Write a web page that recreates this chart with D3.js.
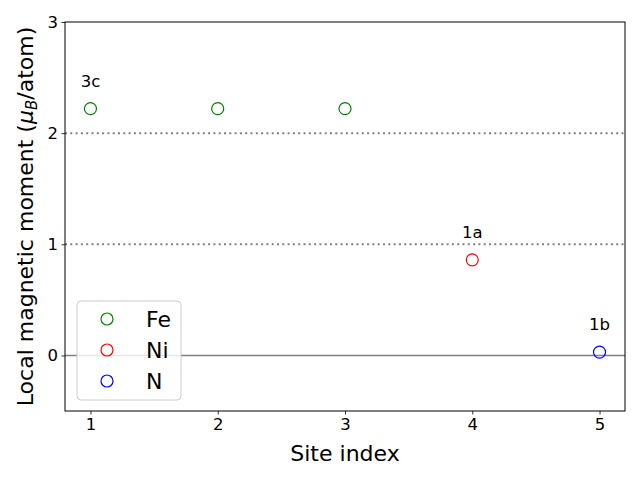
<!DOCTYPE html>
<html><head><meta charset="utf-8">
<script src="https://cdn.jsdelivr.net/npm/d3@7"></script>
<style>body{margin:0;background:#fff;} text{font-family:"DejaVu Sans",sans-serif;}</style>
</head><body>
<svg id="chart" width="640" height="480"></svg>
<script>
const species = ["Fe", "Ni", "N"];
const speciesColors = ["green", "red", "blue"];
const siteIndex = [1, 2, 3, 4, 5];
const siteSpecies = ["Fe", "Fe", "Fe", "Ni", "N"];
const moments = [2.22, 2.22, 2.22, 0.86, 0.03];
const wyckoff = [{i: 0, label: "3c"}, {i: 3, label: "1a"}, {i: 4, label: "1b"}];
const xTicks = [1, 2, 3, 4, 5];
const yTicks = [0, 1, 2, 3];
const refLinesDotted = [1, 2];

const svg = d3.select("#chart");
const L = 65, R = 625, T = 22, B = 411;
const x = d3.scaleLinear().domain([0.8, 5.2]).range([L, R]);
const y = d3.scaleLinear().domain([-0.5, 3]).range([B, T]);
const color = d3.scaleOrdinal().domain(species).range(speciesColors);

// reference lines
svg.append("line").attr("x1", L).attr("x2", R).attr("y1", y(0)).attr("y2", y(0))
  .attr("stroke", "#808080").attr("stroke-width", 1.5);
svg.selectAll(".dl").data(refLinesDotted).enter().append("line")
  .attr("x1", L).attr("x2", R).attr("y1", d => y(d)).attr("y2", d => y(d))
  .attr("stroke", "#808080").attr("stroke-width", 2).attr("stroke-dasharray", "2,3.3");

// points
svg.selectAll(".pt").data(siteIndex).enter().append("circle")
  .attr("cx", d => x(d)).attr("cy", (d, i) => y(moments[i])).attr("r", 6)
  .attr("fill", "none").attr("stroke", (d, i) => color(siteSpecies[i])).attr("stroke-width", 1.2);

// labels
svg.selectAll(".wl").data(wyckoff).enter().append("text")
  .attr("x", d => x(siteIndex[d.i])).attr("y", d => y(moments[d.i] + 0.25) + 6)
  .attr("text-anchor", "middle").attr("font-size", 16.5).text(d => d.label);

// axes
const xAxis = d3.axisBottom(x).tickValues(xTicks).tickFormat(d3.format("d")).tickSize(3.5).tickPadding(3.5);
const yAxis = d3.axisLeft(y).tickValues(yTicks).tickFormat(d3.format("d")).tickSize(3.5).tickPadding(3.5);
const gx = svg.append("g").attr("transform", `translate(0,${B})`).call(xAxis);
const gy = svg.append("g").attr("transform", `translate(${L},0)`).call(yAxis);
[gx, gy].forEach(g => {
  g.select(".domain").remove();
  g.selectAll("text").attr("font-size", 16.5).attr("fill", "#000").style("font-family", "DejaVu Sans");
  g.selectAll("line").attr("stroke", "#000").attr("stroke-width", 0.8);
});
gx.selectAll("text").attr("dy", "0.75em");

svg.append("rect").attr("x", L).attr("y", T).attr("width", R - L).attr("height", B - T)
  .attr("fill", "none").attr("stroke", "#000").attr("stroke-width", 1);

// axis labels
svg.append("text").attr("x", (L + R) / 2).attr("y", 461).attr("text-anchor", "middle")
  .attr("font-size", 22).text("Site index");
const yl = svg.append("text").attr("transform", `translate(33,${(T + B) / 2}) rotate(-90)`)
  .attr("text-anchor", "middle").attr("font-size", 22);
yl.append("tspan").text("Local magnetic moment (");
yl.append("tspan").attr("font-style", "italic").text("μ");
yl.append("tspan").attr("font-style", "italic").attr("font-size", 15).attr("dy", 4).text("B");
yl.append("tspan").attr("dy", -4).text("/atom)");

// legend
const lg = svg.append("g").attr("transform", "translate(77,301)");
lg.append("rect").attr("width", 104).attr("height", 99).attr("rx", 4)
  .attr("fill", "rgba(255,255,255,0.8)").attr("stroke", "#ccc").attr("stroke-width", 1);
species.forEach((s, i) => {
  const yy = 18 + i * 31;
  lg.append("circle").attr("cx", 30).attr("cy", yy).attr("r", 6).attr("fill", "none")
    .attr("stroke", color(s)).attr("stroke-width", 1.2);
  lg.append("text").attr("x", 69).attr("y", yy + 8).attr("font-size", 22).text(s);
});
</script>
</body></html>
